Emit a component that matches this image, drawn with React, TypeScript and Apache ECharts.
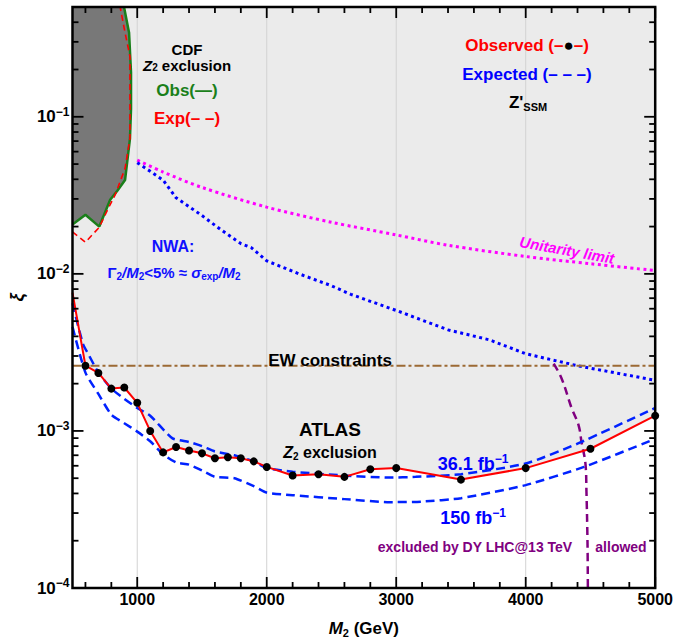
import React, { useEffect, useRef } from 'react';
import * as echarts from 'echarts';

const F = '"Liberation Sans", Arial, Helvetica, sans-serif';

// axis ranges
const X_MIN = 500;
const X_MAX = 5000;
const Y_MIN = 1e-4;
const Y_MAX = 0.5;

// tick positions
const xMajorTicks = [1000, 2000, 3000, 4000, 5000];
const xMinorTicks = [600, 800, 1200, 1400, 1600, 1800, 2200, 2400, 2600, 2800, 3200, 3400, 3600, 3800, 4200, 4400, 4600, 4800];
const yMajorTicks = [1e-4, 1e-3, 1e-2, 1e-1];
const yMinorMultipliers = [2, 3, 4, 5, 6, 7, 8, 9];
const xGridLines = [1000, 2000, 3000, 4000];

// ATLAS observed (red with dots)
const obsM = [500, 600, 700, 800, 900, 1000, 1100, 1200, 1300, 1400, 1500, 1600, 1700, 1800, 1900, 2000, 2200, 2400, 2600, 2800, 3000, 3500, 4000, 4500, 5000];
const obsXi = [7.6e-3, 2.6e-3, 2.34e-3, 1.86e-3, 1.89e-3, 1.51e-3, 1.0e-3, 0.73e-3, 0.79e-3, 0.75e-3, 0.72e-3, 0.67e-3, 0.68e-3, 0.67e-3, 0.64e-3, 0.59e-3, 0.52e-3, 0.53e-3, 0.51e-3, 0.57e-3, 0.58e-3, 0.49e-3, 0.58e-3, 0.77e-3, 1.25e-3];

// expected 36.1 fb^-1
const exp36M = [500, 580, 630, 700, 800, 900, 1000, 1100, 1270, 1400, 1500, 1600, 1750, 1900, 2000, 2200, 2600, 2950, 3150, 3500, 4000, 4400, 5000];
const exp36Xi = [6.5e-3, 3.6e-3, 3.0e-3, 2.35e-3, 1.86e-3, 1.6e-3, 1.4e-3, 1.25e-3, 0.9e-3, 0.85e-3, 0.8e-3, 0.74e-3, 0.7e-3, 0.64e-3, 0.58e-3, 0.55e-3, 0.52e-3, 0.505e-3, 0.51e-3, 0.53e-3, 0.62e-3, 0.83e-3, 1.4e-3];

// expected 150 fb^-1
const exp150M = [500, 600, 700, 800, 900, 1000, 1100, 1200, 1300, 1400, 1500, 1600, 1750, 1900, 2000, 2200, 2600, 2950, 3200, 3500, 4000, 4450, 5000];
const exp150Xi = [4.6e-3, 2.35e-3, 1.72e-3, 1.27e-3, 1.12e-3, 0.99e-3, 0.86e-3, 0.71e-3, 0.63e-3, 0.61e-3, 0.56e-3, 0.51e-3, 0.5e-3, 0.445e-3, 0.405e-3, 0.39e-3, 0.368e-3, 0.352e-3, 0.355e-3, 0.373e-3, 0.452e-3, 0.59e-3, 0.89e-3];

// NWA (blue dotted)
const nwaM = [1000, 1100, 1200, 1300, 1400, 1500, 1650, 1800, 1880, 2000, 2250, 2500, 2650, 3000, 3400, 3720, 4000, 4200, 4400, 5000];
const nwaXi = [0.051, 0.045, 0.0395, 0.0305, 0.0268, 0.0235, 0.019, 0.0156, 0.0147, 0.0121, 0.0100, 0.0084, 0.0074, 0.00585, 0.0044, 0.0038, 0.0031, 0.00284, 0.0026, 0.0021];

// unitarity limit (magenta dotted)
const uniM = [1000, 1200, 1500, 2000, 2500, 3000, 3400, 4000, 4500, 5000];
const uniXi = [0.053, 0.0445, 0.0355, 0.0266, 0.0213, 0.0177, 0.0152, 0.0129, 0.0116, 0.0105];

// EW constraints
const ewXi = 2.6e-3;

// DY LHC@13 TeV boundary (purple dashed)
const dyM = [4216, 4278, 4354, 4408, 4431, 4462, 4469, 4477, 4480];
const dyXi = [2.68e-3, 2.15e-3, 1.4e-3, 1.09e-3, 8.5e-4, 6.1e-4, 4.13e-4, 2.0e-4, 1.0e-4];

// CDF observed (green) and expected (red dashed)
const cdfObsM = [500, 600, 707, 791, 845, 906, 944, 952, 952, 937, 898];
const cdfObsXi = [0.0206, 0.0238, 0.020, 0.0296, 0.0337, 0.0396, 0.0727, 0.112, 0.192, 0.343, 0.5];
const cdfExpM = [500, 600, 707, 768, 830, 906, 944, 944, 944, 906, 868];
const cdfExpXi = [0.0185, 0.0159, 0.0198, 0.0253, 0.0319, 0.047, 0.073, 0.157, 0.242, 0.343, 0.5];

const pairs = (xs: number[], ys: number[]) => xs.map((x, i) => [x, ys[i]]);

function txt(x: number, y: number, text: string, rich: any, extra: any = {}) {
  return {
    type: 'text',
    x,
    y,
    z: 100,
    rotation: extra.rotation || 0,
    style: {
      text,
      rich,
      align: 'center',
      verticalAlign: 'middle',
      fontFamily: F,
      fontWeight: 'bold',
    },
  };
}

function R(size: number, color: string, more: any = {}) {
  return { fontSize: size, fontWeight: 'bold', fontFamily: F, color, fill: color, ...more };
}

export default function App() {
  const ref = useRef<HTMLDivElement>(null);

  useEffect(() => {
    if (!ref.current) return;
    const chart = echarts.init(ref.current, undefined, { renderer: 'svg' });

    const yMinorTicks: number[] = [];
    for (const d of yMajorTicks) {
      for (const m of yMinorMultipliers) {
        const v = d * m;
        if (v < Y_MAX) yMinorTicks.push(v);
      }
    }

    const gridRender = (params: any, api: any) => {
      if (params.dataIndex !== 0) return null;
      const cs = params.coordSys;
      const children: any[] = [];
      for (const v of xGridLines) {
        const px = api.coord([v, Y_MIN])[0];
        children.push({
          type: 'line',
          shape: { x1: px, y1: cs.y, x2: px, y2: cs.y + cs.height },
          style: { stroke: '#d2d2d2', lineWidth: 1 },
        });
      }
      return { type: 'group', children };
    };

    const frameRender = (params: any, api: any) => {
      if (params.dataIndex !== 0) return null;
      const cs = params.coordSys;
      const left = cs.x;
      const top = cs.y;
      const right = cs.x + cs.width;
      const bottom = cs.y + cs.height;
      const children: any[] = [];
      const st = { stroke: '#000', lineWidth: 1.8 };
      const addX = (v: number, len: number) => {
        const px = api.coord([v, Y_MIN])[0];
        children.push({ type: 'line', shape: { x1: px, y1: bottom, x2: px, y2: bottom - len }, style: st });
        children.push({ type: 'line', shape: { x1: px, y1: top, x2: px, y2: top + len }, style: st });
      };
      const addY = (v: number, len: number) => {
        const py = api.coord([X_MIN, v])[1];
        children.push({ type: 'line', shape: { x1: left, y1: py, x2: left + len, y2: py }, style: st });
        children.push({ type: 'line', shape: { x1: right, y1: py, x2: right - len, y2: py }, style: st });
      };
      xMajorTicks.forEach((v) => addX(v, 11));
      xMinorTicks.forEach((v) => addX(v, 6));
      yMajorTicks.forEach((v) => addY(v, 11));
      yMinorTicks.forEach((v) => addY(v, 6));
      children.push({
        type: 'rect',
        shape: { x: left, y: top, width: cs.width, height: cs.height },
        style: { fill: 'none', stroke: '#000', lineWidth: 2.5 },
      });
      return { type: 'group', children };
    };

    const cdfRender = (params: any, api: any) => {
      if (params.dataIndex !== 0) return null;
      const pts = cdfObsM.map((m, i) => api.coord([m, cdfObsXi[i]]));
      pts.push(api.coord([X_MIN, Y_MAX]));
      return {
        type: 'polygon',
        shape: { points: pts },
        style: { fill: '#787878', stroke: 'none' },
      };
    };

    const option: any = {
      animation: false,
      backgroundColor: '#fff',
      grid: { left: 70, top: 7, right: 19, bottom: 48, containLabel: false },
      xAxis: {
        type: 'value',
        min: X_MIN,
        max: X_MAX,
        interval: 500,
        axisLine: { show: false },
        axisTick: { show: false },
        splitLine: { show: false },
        axisLabel: {
          margin: 3,
          color: '#000',
          fontFamily: F,
          fontWeight: 'bold',
          fontSize: 16,
          formatter: (v: number) => (Math.round(v) % 1000 === 0 ? String(Math.round(v)) : ''),
        },
        name: '{i|M}{s|2}{n| (GeV)}',
        nameLocation: 'middle',
        nameGap: 30,
        nameTextStyle: {
          rich: {
            i: R(17, '#000', { fontStyle: 'italic', lineHeight: 20 }),
            s: R(11, '#000', { verticalAlign: 'bottom', lineHeight: 12 }),
            n: R(17, '#000', { lineHeight: 20 }),
          },
        },
      },
      yAxis: {
        type: 'log',
        logBase: 10,
        min: Y_MIN,
        max: Y_MAX,
        axisLine: { show: false },
        axisTick: { show: false },
        splitLine: { show: false },
        axisLabel: {
          margin: 3,
          showMaxLabel: false,
          formatter: (v: number) => {
            const l = Math.log10(v);
            const e = Math.round(l);
            if (Math.abs(l - e) > 0.01) return '';
            return `{b|10}{s|−${Math.abs(e)}}`;
          },
          rich: {
            b: R(17, '#000', { lineHeight: 22 }),
            s: R(12, '#000', { verticalAlign: 'top', lineHeight: 12 }),
          },
        },
        name: 'ξ',
        nameLocation: 'middle',
        nameRotate: 90,
        nameGap: 45,
        nameTextStyle: { fontFamily: F, fontSize: 18, fontWeight: 'bold', fontStyle: 'italic', color: '#000' },
      },
      series: [
        {
          type: 'line',
          name: 'atlasFill',
          data: pairs(obsM, obsXi),
          symbol: 'none',
          lineStyle: { width: 0 },
          areaStyle: { color: 'rgba(0,0,0,0.11)', origin: 'end' },
          z: 1,
          silent: true,
        },
        {
          type: 'custom',
          name: 'grid',
          data: [[X_MIN, Y_MIN]],
          renderItem: gridRender,
          z: 2,
          silent: true,
        },
        {
          type: 'custom',
          name: 'cdfFill',
          data: [[X_MIN, Y_MAX]],
          renderItem: cdfRender,
          clip: true,
          z: 3,
          silent: true,
        },
        {
          type: 'line',
          name: 'unitarity',
          data: pairs(uniM, uniXi),
          symbol: 'none',
          smooth: 0.3,
          lineStyle: { color: '#ff00ff', width: 3, type: [3, 3.5], cap: 'butt' },
          z: 4,
        },
        {
          type: 'line',
          name: 'nwa',
          data: pairs(nwaM, nwaXi),
          symbol: 'none',
          lineStyle: { color: '#0000ff', width: 3, type: [3, 3.5], cap: 'butt' },
          z: 4,
        },
        {
          type: 'line',
          name: 'ew',
          data: [[X_MIN, ewXi], [X_MAX, ewXi]],
          symbol: 'none',
          lineStyle: { color: '#9c6a34', width: 2, type: [9, 3, 3, 3] },
          z: 4,
        },
        {
          type: 'line',
          name: 'dy',
          data: pairs(dyM, dyXi),
          symbol: 'none',
          smooth: 0.4,
          lineStyle: { color: '#800080', width: 2.5, type: [8, 5] },
          z: 4,
        },
        {
          type: 'line',
          name: 'exp150',
          data: pairs(exp150M, exp150Xi),
          symbol: 'none',
          smooth: 0.2,
          lineStyle: { color: '#0022ff', width: 2.5, type: [9, 5] },
          z: 5,
        },
        {
          type: 'line',
          name: 'exp36',
          data: pairs(exp36M, exp36Xi),
          symbol: 'none',
          smooth: 0.2,
          lineStyle: { color: '#0022ff', width: 2.5, type: [9, 5] },
          z: 5,
        },
        {
          type: 'line',
          name: 'cdfObs',
          data: pairs(cdfObsM, cdfObsXi),
          symbol: 'none',
          lineStyle: { color: '#1a7f1a', width: 2.5 },
          z: 5,
        },
        {
          type: 'line',
          name: 'cdfExp',
          data: pairs(cdfExpM, cdfExpXi),
          symbol: 'none',
          lineStyle: { color: '#ff0000', width: 1.6, type: [6, 4] },
          z: 5,
        },
        {
          type: 'line',
          name: 'observed',
          data: obsM.map((m, i) =>
            m === X_MIN ? { value: [m, obsXi[i]], symbol: 'none' } : { value: [m, obsXi[i]] }
          ),
          symbol: 'circle',
          symbolSize: 8,
          itemStyle: { color: '#000' },
          lineStyle: { color: '#ff0000', width: 2 },
          z: 6,
        },
        {
          type: 'custom',
          name: 'frame',
          data: [[X_MIN, Y_MIN]],
          renderItem: frameRender,
          clip: false,
          z: 20,
          silent: true,
        },
      ],
      graphic: [
        txt(187, 49, '{b|CDF}', { b: R(15, '#000', { lineHeight: 15 }) }),
        txt(187, 65, '{i|Z}{s|2}{n| exclusion}', {
          i: R(15, '#000', { fontStyle: 'italic', lineHeight: 15 }),
          s: R(10, '#000', { verticalAlign: 'bottom', lineHeight: 10 }),
          n: R(15, '#000', { lineHeight: 15 }),
        }),
        txt(187, 90, '{g|Obs(—)}', { g: R(17, '#1a7f1a') }),
        txt(187, 118, '{r|Exp(– –)}', { r: R(17, '#ff0000') }),
        txt(527, 45, '{r|Observed (–}{k|●}{r|–)}', { r: R(17, '#ff0000'), k: R(17, '#000') }),
        txt(527, 74, '{b|Expected (– – –)}', { b: R(17, '#0000ff') }),
        txt(528, 102, "{z|Z'}{s|SSM}", {
          z: R(17, '#000', { lineHeight: 20 }),
          s: R(11, '#000', { verticalAlign: 'bottom', lineHeight: 11 }),
        }),
        txt(173, 246, '{b|NWA:}', { b: R(16, '#1010ff') }),
        txt(174, 272, '{n|Γ}{s|2}{i|/M}{s|2}{n|<5% ≈ }{i|σ}{s|exp}{i|/M}{s|2}', {
          n: R(15, '#1010ff', { lineHeight: 18 }),
          i: R(15, '#1010ff', { fontStyle: 'italic', lineHeight: 18 }),
          s: R(10, '#1010ff', { verticalAlign: 'bottom', lineHeight: 11 }),
        }),
        txt(567, 250, '{m|Unitarity limit}', { m: R(15, '#ff00ff', { fontStyle: 'italic' }) }, { rotation: -0.18 }),
        txt(330, 360, '{b|EW constraints}', { b: R(17, '#000') }),
        txt(330, 429, '{b|ATLAS}', { b: R(19, '#000') }),
        txt(330, 452, '{i|Z}{s|2}{n| exclusion}', {
          i: R(16, '#000', { fontStyle: 'italic', lineHeight: 18 }),
          s: R(10, '#000', { verticalAlign: 'bottom', lineHeight: 11 }),
          n: R(16, '#000', { lineHeight: 18 }),
        }),
        txt(473, 464, '{b|36.1 fb}{s|−1}', {
          b: R(18, '#0000ff', { lineHeight: 22 }),
          s: R(12, '#0000ff', { verticalAlign: 'top', lineHeight: 12 }),
        }),
        txt(473, 518, '{b|150 fb}{s|−1}', {
          b: R(18, '#0000ff', { lineHeight: 22 }),
          s: R(12, '#0000ff', { verticalAlign: 'top', lineHeight: 12 }),
        }),
        txt(475, 547, '{p|excluded by DY LHC@13 TeV}', { p: R(14, '#800080') }),
        txt(621, 547, '{p|allowed}', { p: R(14, '#800080') }),
      ],
    };

    chart.setOption(option);
    return () => chart.dispose();
  }, []);

  return (
    <div
      ref={ref}
      style={{ position: 'fixed', left: 0, top: 0, width: 676, height: 643, background: '#fff' }}
    />
  );
}
